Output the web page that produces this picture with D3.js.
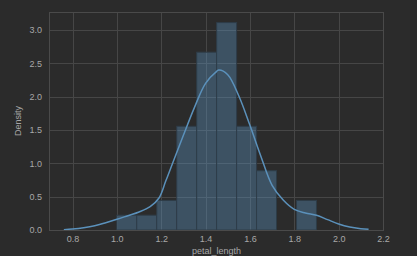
<!DOCTYPE html>
<html>
<head>
<meta charset="utf-8">
<script src="https://cdn.jsdelivr.net/npm/d3@7"></script>
<style>
  html, body { margin: 0; padding: 0; background: #2b2b2b; }
  svg { display: block; }
  text { font-family: "Liberation Sans", Arial, sans-serif; }
</style>
</head>
<body>
<svg id="chart" width="417" height="256"></svg>
<script>
// Histogram bins (petal_length) and density heights
const binLeft  = [1.00, 1.09, 1.18, 1.27, 1.36, 1.45, 1.54, 1.63, 1.72, 1.81];
const binRight = [1.09, 1.18, 1.27, 1.36, 1.45, 1.54, 1.63, 1.72, 1.81, 1.90];
const binDensity = [0.222, 0.222, 0.444, 1.556, 2.667, 3.111, 1.556, 0.889, 0, 0.444];

// KDE curve
const kdeX = [0.761, 0.80, 0.85, 0.90, 0.95, 1.00, 1.05, 1.10, 1.15, 1.19, 1.22, 1.25, 1.30, 1.35, 1.40, 1.45, 1.46, 1.50, 1.55, 1.60, 1.65, 1.70, 1.75, 1.80, 1.85, 1.90, 1.95, 2.00, 2.05, 2.10, 2.135];
const kdeY = [0.005, 0.015, 0.035, 0.065, 0.11, 0.16, 0.215, 0.27, 0.35, 0.48, 0.73, 0.99, 1.42, 1.84, 2.20, 2.38, 2.40, 2.33, 2.01, 1.57, 1.10, 0.67, 0.45, 0.31, 0.255, 0.22, 0.155, 0.09, 0.045, 0.02, 0.01];

const xTicks = [0.8, 1.0, 1.2, 1.4, 1.6, 1.8, 2.0, 2.2];
const yTicks = [0.0, 0.5, 1.0, 1.5, 2.0, 2.5, 3.0];
const xLabel = "petal_length";
const yLabel = "Density";

const svg = d3.select("#chart");
const L = 49, R = 384, T = 12, B = 230;
const x = d3.scaleLinear().domain([0.694, 2.2045]).range([L, R]);
const y = d3.scaleLinear().domain([0, 3.27]).range([B, T]);

const gridColor = "#464646";
const textColor = "#a8a8a8";
const fs = 9;

// gridlines
const g = svg.append("g");
g.selectAll(".vx").data(xTicks).enter().append("line")
  .attr("x1", d => Math.round(x(d)) + 0.5).attr("x2", d => Math.round(x(d)) + 0.5)
  .attr("y1", T).attr("y2", B)
  .attr("stroke", gridColor).attr("stroke-width", 1);
g.selectAll(".hy").data(yTicks).enter().append("line")
  .attr("y1", d => Math.round(y(d)) + 0.5).attr("y2", d => Math.round(y(d)) + 0.5)
  .attr("x1", L).attr("x2", R)
  .attr("stroke", gridColor).attr("stroke-width", 1);

// bars
const bars = binLeft.map((l, i) => ({l, r: binRight[i], d: binDensity[i]})).filter(b => b.d > 0);
svg.append("g").selectAll("rect").data(bars).enter().append("rect")
  .attr("x", b => x(b.l))
  .attr("width", b => x(b.r) - x(b.l))
  .attr("y", b => y(b.d))
  .attr("height", b => y(0) - y(b.d))
  .attr("fill", "#5a8fb8").attr("fill-opacity", 0.4)
  .attr("stroke", "#2e3c48").attr("stroke-width", 1);

// KDE line
const line = d3.line().x(d => x(d[0])).y(d => y(d[1])).curve(d3.curveCatmullRom.alpha(0.5));
svg.append("path")
  .datum(kdeX.map((v, i) => [v, kdeY[i]]))
  .attr("d", line)
  .attr("fill", "none").attr("stroke", "#5b91bb").attr("stroke-width", 1.5);

// frame
svg.append("rect")
  .attr("x", L + 0.5).attr("y", T + 0.5)
  .attr("width", R - L - 1).attr("height", B - T)
  .attr("fill", "none").attr("stroke", "#4a4a4a").attr("stroke-width", 1);

// axes via d3
const xAxis = d3.axisBottom(x).tickValues(xTicks).tickSize(0).tickPadding(6).tickFormat(d3.format(".1f"));
const gx = svg.append("g").attr("transform", `translate(0,${B})`).call(xAxis);
gx.select(".domain").remove();
gx.selectAll("text").attr("fill", textColor).attr("font-size", fs).attr("font-family", "Liberation Sans, Arial, sans-serif");

const yAxis = d3.axisLeft(y).tickValues(yTicks).tickSize(0).tickPadding(7).tickFormat(d3.format(".1f"));
const gy = svg.append("g").attr("transform", `translate(${L},0)`).call(yAxis);
gy.select(".domain").remove();
gy.selectAll("text").attr("fill", textColor).attr("font-size", fs).attr("font-family", "Liberation Sans, Arial, sans-serif");

svg.append("text")
  .attr("x", (L + R) / 2).attr("y", 253.5)
  .attr("text-anchor", "middle").attr("fill", textColor).attr("font-size", fs)
  .text(xLabel);
svg.append("text")
  .attr("transform", `translate(21,${(T + B) / 2}) rotate(-90)`)
  .attr("text-anchor", "middle").attr("fill", textColor).attr("font-size", fs)
  .text(yLabel);
</script>
</body>
</html>
